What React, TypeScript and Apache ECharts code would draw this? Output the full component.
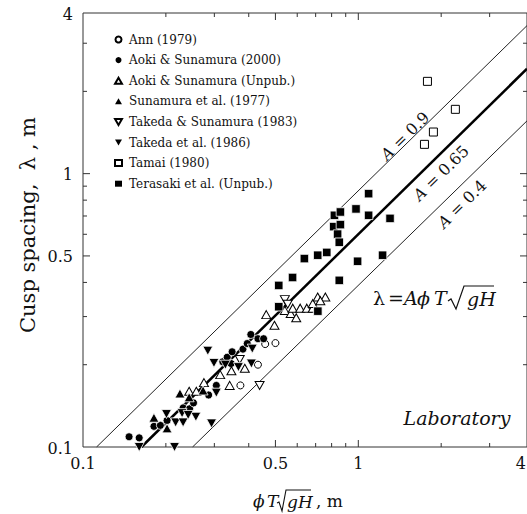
import React, { useEffect, useRef } from "react";
import * as echarts from "echarts";

// ---- axis extents (log axes) ----
const X_MIN = 0.1;
const X_MAX = 4.1;
const Y_MIN = 0.1;
const Y_MAX = 3.87;

// ---- ticks and tick labels ----
const xMajorTicks = [0.5, 1];
const xMinorTicks = [0.2, 0.3, 0.4, 0.6, 0.7, 0.8, 0.9, 2, 3];
const yMajorTicks = [0.5, 1];
const yMinorTicks = [0.2, 0.3, 0.4, 0.6, 0.7, 0.8, 0.9, 2, 3];
const xTickValues = [0.1, 0.5, 1, 4];
const xTickLabels = ["0.1", "0.5", "1", "4"];
const yTickValues = [0.1, 0.5, 1, Y_MAX];
const yTickLabels = ["0.1", "0.5", "1", "4"];

// ---- series (phi*T*sqrt(gH), lambda) ----
const ann1979: [number, number][] = [
  [0.373, 0.168], [0.432, 0.2], [0.459, 0.238], [0.5, 0.24],
];
const aoki2000: [number, number][] = [
  [0.147, 0.109], [0.16, 0.108], [0.181, 0.119], [0.191, 0.12], [0.202, 0.125],
  [0.231, 0.139], [0.244, 0.138], [0.252, 0.145], [0.286, 0.155], [0.305, 0.168],
  [0.322, 0.205], [0.334, 0.213], [0.348, 0.223], [0.345, 0.202], [0.381, 0.228],
  [0.395, 0.239], [0.407, 0.258], [0.432, 0.249], [0.453, 0.249],
];
const aokiUnpub: [number, number][] = [
  [0.243, 0.16], [0.258, 0.16], [0.275, 0.172], [0.315, 0.184], [0.341, 0.168],
  [0.346, 0.19], [0.387, 0.194], [0.463, 0.305], [0.496, 0.279], [0.541, 0.316],
  [0.568, 0.308], [0.595, 0.297], [0.578, 0.322], [0.615, 0.322], [0.65, 0.322],
  [0.683, 0.322], [0.683, 0.335], [0.712, 0.354], [0.759, 0.354], [0.728, 0.343],
];
const sunamura1977: [number, number][] = [
  [0.181, 0.128], [0.202, 0.117], [0.225, 0.157], [0.243, 0.152], [0.273, 0.161],
];
const takedaSunamura1983: [number, number][] = [
  [0.371, 0.209], [0.438, 0.168], [0.541, 0.346], [0.554, 0.333],
];
const takeda1986: [number, number][] = [
  [0.16, 0.1], [0.215, 0.1], [0.284, 0.225], [0.299, 0.203], [0.305, 0.158],
  [0.293, 0.122], [0.201, 0.132], [0.217, 0.123], [0.231, 0.123], [0.229, 0.133],
  [0.257, 0.129], [0.241, 0.131], [0.329, 0.2], [0.367, 0.196], [0.409, 0.202],
  [0.412, 0.229],
];
const tamai1980: [number, number][] = [
  [1.783, 2.176], [2.252, 1.719], [1.874, 1.42], [1.739, 1.28],
];
const terasakiUnpub: [number, number][] = [
  [0.514, 0.39], [0.577, 0.417], [0.514, 0.326], [0.637, 0.489], [0.712, 0.503],
  [0.768, 0.515], [0.814, 0.64], [0.861, 0.651], [0.841, 0.601], [0.853, 0.561],
  [0.819, 0.704], [0.861, 0.724], [0.981, 0.743], [1.09, 0.845], [1.09, 0.704],
  [1.304, 0.686], [1.225, 0.503], [0.994, 0.478], [0.853, 0.407], [0.713, 0.314],
];

// ---- reference lines lambda = A * x (end points) ----
const lineA09: [number, number][] = [[0.112, 0.1], [4.1, 3.48]];
const lineA065: [number, number][] = [[0.163, 0.1], [4.1, 2.42]];
const lineA04: [number, number][] = [[0.25, 0.1], [4.1, 1.56]];

const SERIF = '"DejaVu Serif", serif';
const INK = "#111";
const AXIS = "#333";
const TRI_UP = "path://M5,0L10,8.66L0,8.66Z";
const TRI_DOWN = "path://M0,0L10,0L5,8.66Z";
const ROT = (44.5 * Math.PI) / 180;

function scatter(name: string, data: [number, number][], symbol: string, size: number | number[], filled: boolean) {
  return {
    type: "scatter",
    name,
    data,
    symbol,
    symbolSize: size,
    z: 4,
    itemStyle: filled
      ? { color: "#000", borderColor: "#fff", borderWidth: 0.8, opacity: 1 }
      : { color: "#fff", borderColor: "#000", borderWidth: 1, opacity: 1 },
    emphasis: { disabled: true },
  };
}

function refLine(data: [number, number][], width: number, color: string) {
  return {
    type: "line",
    data,
    showSymbol: false,
    symbol: "none",
    silent: true,
    z: 2,
    lineStyle: { width, color },
  };
}

function txt(x: number, y: number, text: string, size: number, italic = false, extra: any = {}) {
  return {
    type: "text",
    x,
    y,
    style: {
      text,
      fontFamily: SERIF,
      fontSize: size,
      fontStyle: italic ? "italic" : "normal",
      fill: INK,
      verticalAlign: "middle",
      ...extra,
    },
  };
}

function lineLabel(x: number, y: number, value: string) {
  return {
    type: "text",
    x,
    y,
    rotation: ROT,
    style: {
      text: "{i|A} = " + value,
      fontFamily: SERIF,
      fontSize: 16,
      fill: INK,
      align: "center",
      verticalAlign: "middle",
      rich: { i: { fontFamily: SERIF, fontSize: 16, fontStyle: "italic", fill: INK } },
    },
  };
}

export default function App() {
  const ref = useRef<HTMLDivElement>(null);
  useEffect(() => {
    const chart = echarts.init(ref.current!, null, { renderer: "svg" });
    const tickData = [
      ...xMajorTicks.map((v) => [v, Y_MIN, 0]),
      ...xMinorTicks.map((v) => [v, Y_MIN, 1]),
      ...yMajorTicks.map((v) => [X_MIN, v, 2]),
      ...yMinorTicks.map((v) => [X_MIN, v, 3]),
    ];
    const labelData = [
      ...xTickValues.map((v, i) => [v, Y_MIN, 0, i]),
      ...yTickValues.map((v, i) => [X_MIN, v, 1, i]),
    ];
    const legendNoBorder = { borderWidth: 0 };
    const option: any = {
      animation: false,
      backgroundColor: "#fff",
      grid: {
        left: 83,
        top: 13,
        width: 445,
        height: 434,
        show: true,
        borderColor: AXIS,
        borderWidth: 1,
        backgroundColor: "transparent",
      },
      xAxis: {
        type: "log",
        logBase: 10,
        min: X_MIN,
        max: X_MAX,
        axisLine: { show: false },
        axisTick: { show: false },
        axisLabel: { show: false },
        splitLine: { show: false },
      },
      yAxis: {
        type: "log",
        logBase: 10,
        min: Y_MIN,
        max: Y_MAX,
        axisLine: { show: false },
        axisTick: { show: false },
        axisLabel: { show: false },
        splitLine: { show: false },
      },
      legend: {
        orient: "vertical",
        left: 114,
        top: 32.5,
        padding: 0,
        itemWidth: 7,
        itemHeight: 6,
        itemGap: 6.6,
        selectedMode: false,
        textStyle: { fontFamily: SERIF, fontSize: 12, color: INK, lineHeight: 14, padding: [0, 0, 0, 2] },
        data: [
          { name: "Ann (1979)" },
          { name: "Aoki & Sunamura (2000)", itemStyle: legendNoBorder },
          { name: "Aoki & Sunamura (Unpub.)" },
          { name: "Sunamura et al. (1977)", itemStyle: legendNoBorder },
          { name: "Takeda & Sunamura (1983)" },
          { name: "Takeda et al. (1986)", itemStyle: legendNoBorder },
          { name: "Tamai (1980)" },
          { name: "Terasaki et al. (Unpub.)", itemStyle: legendNoBorder },
        ],
      },
      series: [
        refLine(lineA09, 1, "#222"),
        refLine(lineA065, 2.5, "#000"),
        refLine(lineA04, 1, "#222"),
        scatter("Ann (1979)", ann1979, "circle", 7, false),
        scatter("Aoki & Sunamura (2000)", aoki2000, "circle", 8, true),
        scatter("Aoki & Sunamura (Unpub.)", aokiUnpub, TRI_UP, [9, 8], false),
        scatter("Sunamura et al. (1977)", sunamura1977, TRI_UP, [10, 9], true),
        scatter("Takeda & Sunamura (1983)", takedaSunamura1983, TRI_DOWN, [9, 8], false),
        scatter("Takeda et al. (1986)", takeda1986, TRI_DOWN, [10, 9], true),
        scatter("Tamai (1980)", tamai1980, "rect", 8, false),
        scatter("Terasaki et al. (Unpub.)", terasakiUnpub, "rect", 8.5, true),
        {
          type: "custom",
          silent: true,
          clip: false,
          z: 5,
          encode: { x: 0, y: 1 },
          data: tickData,
          renderItem: (params: any, api: any) => {
            const cs = params.coordSys;
            const kind = api.value(2);
            const p = api.coord([api.value(0), api.value(1)]);
            const st = { stroke: AXIS, lineWidth: 1 };
            if (kind < 2) {
              const len = kind === 0 ? 7 : 4;
              const x = p[0];
              const b = cs.y + cs.height;
              const t = cs.y;
              return {
                type: "group",
                children: [
                  { type: "line", shape: { x1: x, y1: b, x2: x, y2: b - len }, style: st },
                  { type: "line", shape: { x1: x, y1: t, x2: x, y2: t + len }, style: st },
                ],
              };
            }
            const len = kind === 2 ? 7 : 4;
            const y = p[1];
            const l = cs.x;
            const r = cs.x + cs.width;
            return {
              type: "group",
              children: [
                { type: "line", shape: { x1: l, y1: y, x2: l + len, y2: y }, style: st },
                { type: "line", shape: { x1: r, y1: y, x2: r - len, y2: y }, style: st },
              ],
            };
          },
        },
        {
          type: "custom",
          silent: true,
          clip: false,
          z: 5,
          encode: { x: 0, y: 1 },
          data: labelData,
          renderItem: (params: any, api: any) => {
            const cs = params.coordSys;
            const isY = api.value(2) === 1;
            const i = api.value(3);
            const p = api.coord([api.value(0), api.value(1)]);
            if (!isY) {
              const last = i === xTickLabels.length - 1;
              return {
                type: "text",
                x: last ? Math.min(p[0] + 5, 526) : p[0],
                y: cs.y + cs.height + 16,
                style: {
                  text: xTickLabels[i],
                  fontFamily: SERIF,
                  fontSize: 16,
                  fill: INK,
                  align: last ? "right" : "center",
                  textAlign: last ? "right" : "center",
                  verticalAlign: "middle",
                  textVerticalAlign: "middle",
                },
              };
            }
            return {
              type: "text",
              x: cs.x - 10,
              y: p[1] + 1,
              style: {
                text: yTickLabels[i],
                fontFamily: SERIF,
                fontSize: 16,
                fill: INK,
                align: "right",
                textAlign: "right",
                verticalAlign: "middle",
                textVerticalAlign: "middle",
              },
            };
          },
        },
      ],
      graphic: [
        // line labels
        lineLabel(405, 136, "0.9"),
        lineLabel(441, 173, "0.65"),
        lineLabel(462, 204, "0.4"),
        // formula  lambda = A phi T sqrt(gH)
        txt(373, 298, "λ", 19),
        txt(388, 298, "=", 19),
        txt(404, 298, "A", 19, true),
        txt(417, 298, "ϕ", 19, true),
        txt(434, 298, "T", 19, true),
        {
          type: "polyline",
          shape: { points: [[448, 301], [451, 299], [456, 309], [464, 286], [494, 286]] },
          style: { stroke: INK, lineWidth: 1.2, fill: null },
        },
        txt(467, 299, "gH", 19, true),
        // Laboratory
        txt(457, 418, "Laboratory", 19, true, { align: "center" }),
        // y axis title
        {
          type: "text",
          x: 28,
          y: 225,
          rotation: Math.PI / 2,
          style: { text: "Cusp spacing,  λ , m", fontFamily: SERIF, fontSize: 21, fill: INK, align: "center", verticalAlign: "middle" },
        },
        // x axis title  phi T sqrt(gH) , m
        txt(253, 501, "ϕ", 17, true),
        txt(267, 501, "T", 17, true),
        {
          type: "polyline",
          shape: { points: [[277, 503], [279, 502], [282, 511], [286, 490], [311, 490]] },
          style: { stroke: INK, lineWidth: 1.1, fill: null },
        },
        txt(287, 502, "gH", 17, true),
        txt(316, 501, ", m", 17),
      ],
    };
    chart.setOption(option);
    return () => chart.dispose();
  }, []);
  return <div ref={ref} style={{ position: "absolute", left: 0, top: 0, width: 527, height: 514 }} />;
}
